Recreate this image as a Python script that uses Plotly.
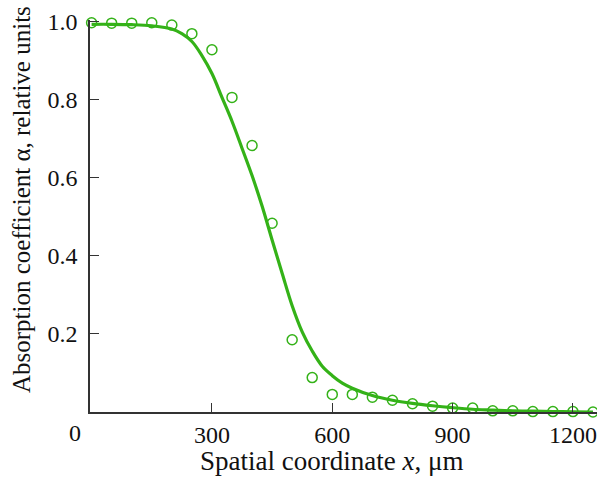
import plotly.graph_objects as go

# measured points (open circles)
x_points = [0, 50, 100, 150, 200, 250, 300, 350, 400, 450, 500, 550, 600,
            650, 700, 750, 800, 850, 900, 950, 1000, 1050, 1100, 1150, 1200, 1250]
alpha_points = [0.996, 0.995, 0.995, 0.996, 0.99, 0.968, 0.927, 0.805, 0.682, 0.483,
                0.185, 0.088, 0.045, 0.045, 0.038, 0.030, 0.021, 0.015, 0.010, 0.010,
                0.003, 0.003, 0.001, 0.001, 0.001, 0.0]

# fitted curve (solid line)
x_curve = [0, 50, 100, 150, 200, 225, 250, 275, 300, 325, 350, 375, 400, 425, 450,
           475, 500, 525, 550, 575, 600, 625, 650, 700, 750, 800, 850, 900, 950,
           1000, 1050, 1100, 1150, 1200, 1250]
alpha_curve = [0.992, 0.992, 0.991, 0.988, 0.98, 0.968, 0.948, 0.912, 0.866, 0.805,
               0.744, 0.675, 0.605, 0.527, 0.44, 0.355, 0.272, 0.205, 0.156, 0.117,
               0.093, 0.074, 0.061, 0.042, 0.030, 0.022, 0.016, 0.011, 0.007,
               0.005, 0.003, 0.002, 0.001, 0.0005, 0.0]

x_ticks = [300, 600, 900, 1200]
y_ticks = [0.2, 0.4, 0.6, 0.8, 1.0]

GREEN = "rgb(52,178,24)"
AXIS = "#333333"
FONT = "Liberation Serif"

fig = go.Figure()
fig.add_trace(go.Scatter(x=x_curve, y=alpha_curve, mode="lines",
                         line=dict(color=GREEN, width=3.2, shape="spline", smoothing=1.0),
                         cliponaxis=False, showlegend=False, hoverinfo="skip"))
fig.add_trace(go.Scatter(x=x_points, y=alpha_points, mode="markers",
                         marker=dict(symbol="circle-open", size=10, color=GREEN,
                                     line=dict(width=1.5, color=GREEN)),
                         cliponaxis=False, showlegend=False))

fig.update_layout(
    width=597, height=478,
    margin=dict(l=90, r=0, t=20, b=66),
    paper_bgcolor="white", plot_bgcolor="white",
    font=dict(family=FONT, size=24, color="#111111"),
    xaxis=dict(range=[-4, 1260], tickvals=x_ticks, ticks="inside", ticklen=9,
               tickwidth=1.3, tickcolor=AXIS, showline=True, linecolor=AXIS,
               linewidth=1.5, showgrid=False, zeroline=False,
               tickfont=dict(family=FONT, size=24), ticklabelstandoff=0),
    yaxis=dict(range=[0, 1.003], tickvals=y_ticks, tickformat=".1f", ticks="inside",
               ticklen=9, tickwidth=1.3, tickcolor=AXIS, showline=True,
               linecolor=AXIS, linewidth=1.5, showgrid=False, zeroline=False,
               tickfont=dict(family=FONT, size=24), ticklabelstandoff=6),
    annotations=[
        dict(text="0", xref="paper", yref="paper", x=(75 - 90) / 507, y=(412 - 433) / 392,
             xanchor="center", yanchor="middle", showarrow=False,
             font=dict(family=FONT, size=24)),
        dict(text="Spatial coordinate <i>x</i>, μm", xref="paper", yref="paper",
             x=(331 - 90) / 507, y=(412 - 461) / 392, xanchor="center", yanchor="middle",
             showarrow=False, font=dict(family=FONT, size=27)),
        dict(text="Absorption coefficient α, relative units", xref="paper", yref="paper",
             x=(22 - 90) / 507, y=(412 - 200) / 392, xanchor="center", yanchor="middle",
             textangle=-90, showarrow=False, font=dict(family=FONT, size=25)),
    ],
)

# remove the default page margin so the 597x478 figure fills the window exactly
fig.write_html("out.html", config={"displayModeBar": False},
               post_script="document.body.style.margin='0';"
                           "document.body.style.overflow='hidden';")
